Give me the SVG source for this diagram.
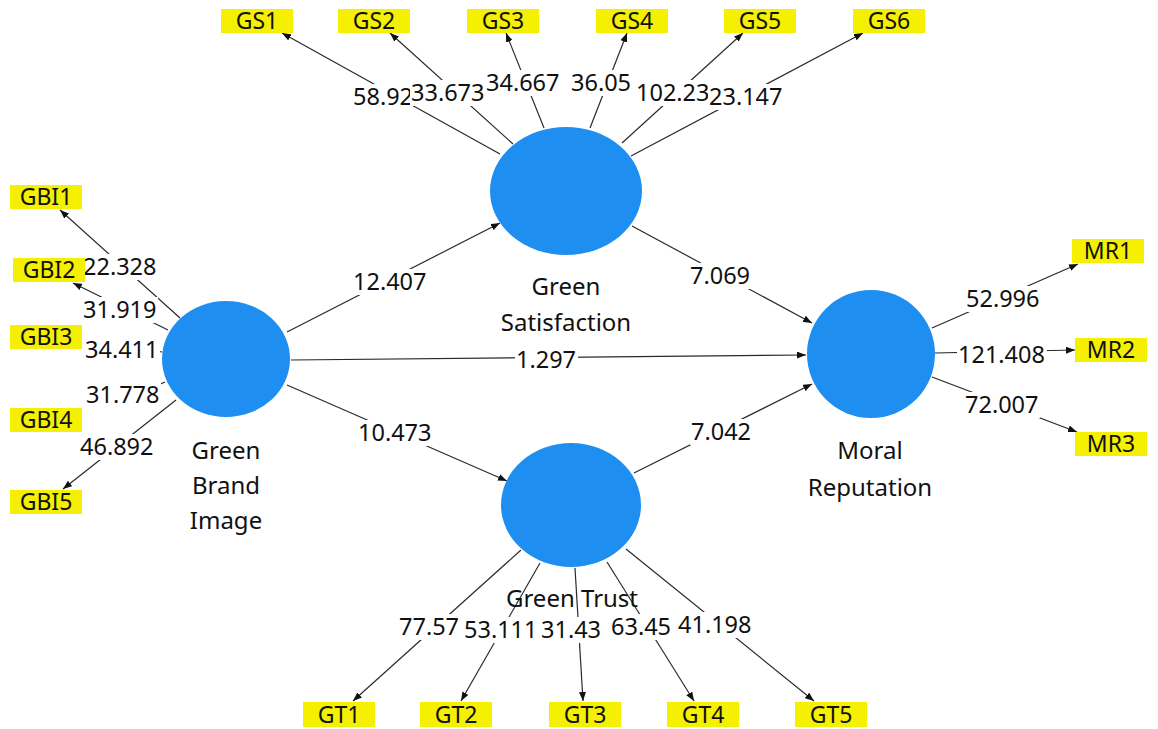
<svg xmlns="http://www.w3.org/2000/svg" width="1158" height="729" viewBox="0 0 1158 729">
<style>
.bg{fill:#ffffff}
.lv{fill:#1e8ff0}
.ind{fill:#f4f000}
.ln{stroke:#2a2a2a;stroke-width:1.2;fill:none;marker-end:url(#ah)}
.lb{fill:#ffffff}
.num{font-family:"Noto Sans","Open Sans",sans-serif;font-size:23.5px;fill:#111111}
.it{font-family:"Noto Sans","Open Sans",sans-serif;font-size:23px;fill:#111111;text-anchor:middle}
.nl{font-family:"Noto Sans","Open Sans",sans-serif;font-size:24px;fill:#111111;text-anchor:middle}
</style>
<defs>
<marker id="ah" markerUnits="userSpaceOnUse" markerWidth="9" markerHeight="7" refX="9" refY="3.5" orient="auto">
<path d="M0,0 L9,3.5 L0,7 z" fill="#111111"/>
</marker>
</defs>
<rect class="bg" x="0" y="0" width="1158" height="729"/>
<g id="connectors">
<line class="ln" x1="287" y1="332" x2="500" y2="223"/>
<line class="ln" x1="291" y1="360" x2="806" y2="355"/>
<line class="ln" x1="287" y1="385" x2="507" y2="481"/>
<line class="ln" x1="632" y1="226" x2="812" y2="323"/>
<line class="ln" x1="634" y1="473" x2="812" y2="384"/>
<line class="ln" x1="500" y1="154" x2="282" y2="33"/>
<line class="ln" x1="513" y1="144" x2="390" y2="33"/>
<line class="ln" x1="544" y1="128" x2="506" y2="33"/>
<line class="ln" x1="590" y1="128" x2="627" y2="33"/>
<line class="ln" x1="622" y1="143" x2="743" y2="33"/>
<line class="ln" x1="631" y1="156" x2="863" y2="33"/>
<line class="ln" x1="180" y1="318" x2="60" y2="210"/>
<line class="ln" x1="168" y1="330" x2="73" y2="283"/>
<line class="ln" x1="162" y1="352" x2="100" y2="341"/>
<line class="ln" x1="165" y1="382" x2="120" y2="402"/>
<line class="ln" x1="176" y1="400" x2="63" y2="489"/>
<line class="ln" x1="932" y1="328" x2="1078" y2="264"/>
<line class="ln" x1="935" y1="353" x2="1075" y2="350"/>
<line class="ln" x1="932" y1="377" x2="1077" y2="432"/>
<line class="ln" x1="521" y1="550" x2="353" y2="701"/>
<line class="ln" x1="540" y1="563" x2="461" y2="701"/>
<line class="ln" x1="575" y1="568" x2="583" y2="701"/>
<line class="ln" x1="607" y1="562" x2="694" y2="701"/>
<line class="ln" x1="626" y1="549" x2="814" y2="701"/>
<g id="path-labels">
<rect class="lb" x="352" y="269" width="76" height="26"/><text class="num" x="353" y="290.4">12.407</text>
<rect class="lb" x="515" y="347" width="63" height="26"/><text class="num" x="516" y="368.4">1.297</text>
<rect class="lb" x="357" y="420" width="76" height="26"/><text class="num" x="358" y="441.4">10.473</text>
<rect class="lb" x="689" y="263" width="63" height="26"/><text class="num" x="690" y="284.4">7.069</text>
<rect class="lb" x="690" y="419" width="63" height="26"/><text class="num" x="691" y="440.4">7.042</text>
<rect class="lb" x="352" y="84" width="60" height="26"/><text class="num" x="353" y="105.4">58.92</text>
<rect class="lb" x="410" y="80" width="76" height="26"/><text class="num" x="411" y="101.4">33.673</text>
<rect class="lb" x="485" y="70" width="76" height="26"/><text class="num" x="486" y="91.4">34.667</text>
<rect class="lb" x="570" y="70" width="62" height="26"/><text class="num" x="571" y="91.4">36.05</text>
<rect class="lb" x="635" y="80" width="72" height="26"/><text class="num" x="636" y="101.4">102.23</text>
<rect class="lb" x="708" y="84" width="76" height="26"/><text class="num" x="709" y="105.4">23.147</text>
<rect class="lb" x="82" y="254" width="76" height="26"/><text class="num" x="83" y="275.4">22.328</text>
<rect class="lb" x="82" y="297" width="76" height="26"/><text class="num" x="83" y="318.4">31.919</text>
<rect class="lb" x="84" y="337" width="76" height="26"/><text class="num" x="85" y="358.4">34.411</text>
<rect class="lb" x="85" y="382" width="76" height="26"/><text class="num" x="86" y="403.4">31.778</text>
<rect class="lb" x="79" y="434" width="76" height="26"/><text class="num" x="80" y="455.4">46.892</text>
<rect class="lb" x="965" y="286" width="76" height="26"/><text class="num" x="966" y="307.4">52.996</text>
<rect class="lb" x="957" y="342" width="90" height="26"/><text class="num" x="958" y="363.4">121.408</text>
<rect class="lb" x="964" y="392" width="76" height="26"/><text class="num" x="965" y="413.4">72.007</text>
<rect class="lb" x="398" y="614" width="62" height="26"/><text class="num" x="399" y="635.4">77.57</text>
<rect class="lb" x="463" y="617" width="76" height="26"/><text class="num" x="464" y="638.4">53.111</text>
<rect class="lb" x="540" y="617" width="63" height="26"/><text class="num" x="541" y="638.4">31.43</text>
<rect class="lb" x="610" y="614" width="66" height="26"/><text class="num" x="611" y="635.4">63.45</text>
<rect class="lb" x="677" y="612" width="76" height="26"/><text class="num" x="678" y="633.4">41.198</text>
</g>
</g>
<g id="green-satisfaction">
<ellipse class="lv" cx="566" cy="191" rx="76" ry="64"/>
<text class="nl" x="566" y="294.6">Green</text>
<text class="nl" x="566" y="330.6">Satisfaction</text>
</g>
<g id="green-brand-image">
<ellipse class="lv" cx="226" cy="359" rx="64" ry="58"/>
<text class="nl" x="226" y="458.6">Green</text>
<text class="nl" x="226" y="493.6">Brand</text>
<text class="nl" x="226" y="528.6">Image</text>
</g>
<g id="moral-reputation">
<ellipse class="lv" cx="871" cy="354" rx="64" ry="64"/>
<text class="nl" x="870" y="458.6">Moral</text>
<text class="nl" x="870" y="495.6">Reputation</text>
</g>
<g id="green-trust">
<ellipse class="lv" cx="571" cy="505" rx="70" ry="62"/>
<text class="nl" x="572" y="606.6">Green Trust</text>
</g>
<g id="GS1"><rect class="ind" x="221" y="9" width="72" height="24"/><text class="it" x="257" y="29.2">GS1</text></g>
<g id="GS2"><rect class="ind" x="338" y="9" width="72" height="24"/><text class="it" x="374" y="29.2">GS2</text></g>
<g id="GS3"><rect class="ind" x="467" y="9" width="72" height="24"/><text class="it" x="503" y="29.2">GS3</text></g>
<g id="GS4"><rect class="ind" x="596" y="9" width="72" height="24"/><text class="it" x="632" y="29.2">GS4</text></g>
<g id="GS5"><rect class="ind" x="724" y="9" width="72" height="24"/><text class="it" x="760" y="29.2">GS5</text></g>
<g id="GS6"><rect class="ind" x="853" y="9" width="72" height="24"/><text class="it" x="889" y="29.2">GS6</text></g>
<g id="GBI1"><rect class="ind" x="10" y="185" width="72" height="24"/><text class="it" x="46" y="205.2">GBI1</text></g>
<g id="GBI2"><rect class="ind" x="13" y="258" width="72" height="24"/><text class="it" x="49" y="278.2">GBI2</text></g>
<g id="GBI3"><rect class="ind" x="10" y="325" width="72" height="24"/><text class="it" x="46" y="345.2">GBI3</text></g>
<g id="GBI4"><rect class="ind" x="10" y="408" width="72" height="24"/><text class="it" x="46" y="428.2">GBI4</text></g>
<g id="GBI5"><rect class="ind" x="10" y="490" width="72" height="24"/><text class="it" x="46" y="510.2">GBI5</text></g>
<g id="MR1"><rect class="ind" x="1072" y="239" width="72" height="24"/><text class="it" x="1108" y="259.2">MR1</text></g>
<g id="MR2"><rect class="ind" x="1075" y="338" width="72" height="24"/><text class="it" x="1111" y="358.2">MR2</text></g>
<g id="MR3"><rect class="ind" x="1075" y="432" width="72" height="24"/><text class="it" x="1111" y="452.2">MR3</text></g>
<g id="GT1"><rect class="ind" x="303" y="702" width="72" height="25"/><text class="it" x="339" y="722.7">GT1</text></g>
<g id="GT2"><rect class="ind" x="420" y="702" width="72" height="25"/><text class="it" x="456" y="722.7">GT2</text></g>
<g id="GT3"><rect class="ind" x="549" y="702" width="72" height="25"/><text class="it" x="585" y="722.7">GT3</text></g>
<g id="GT4"><rect class="ind" x="667" y="702" width="72" height="25"/><text class="it" x="703" y="722.7">GT4</text></g>
<g id="GT5"><rect class="ind" x="795" y="702" width="72" height="25"/><text class="it" x="831" y="722.7">GT5</text></g>
</svg>
